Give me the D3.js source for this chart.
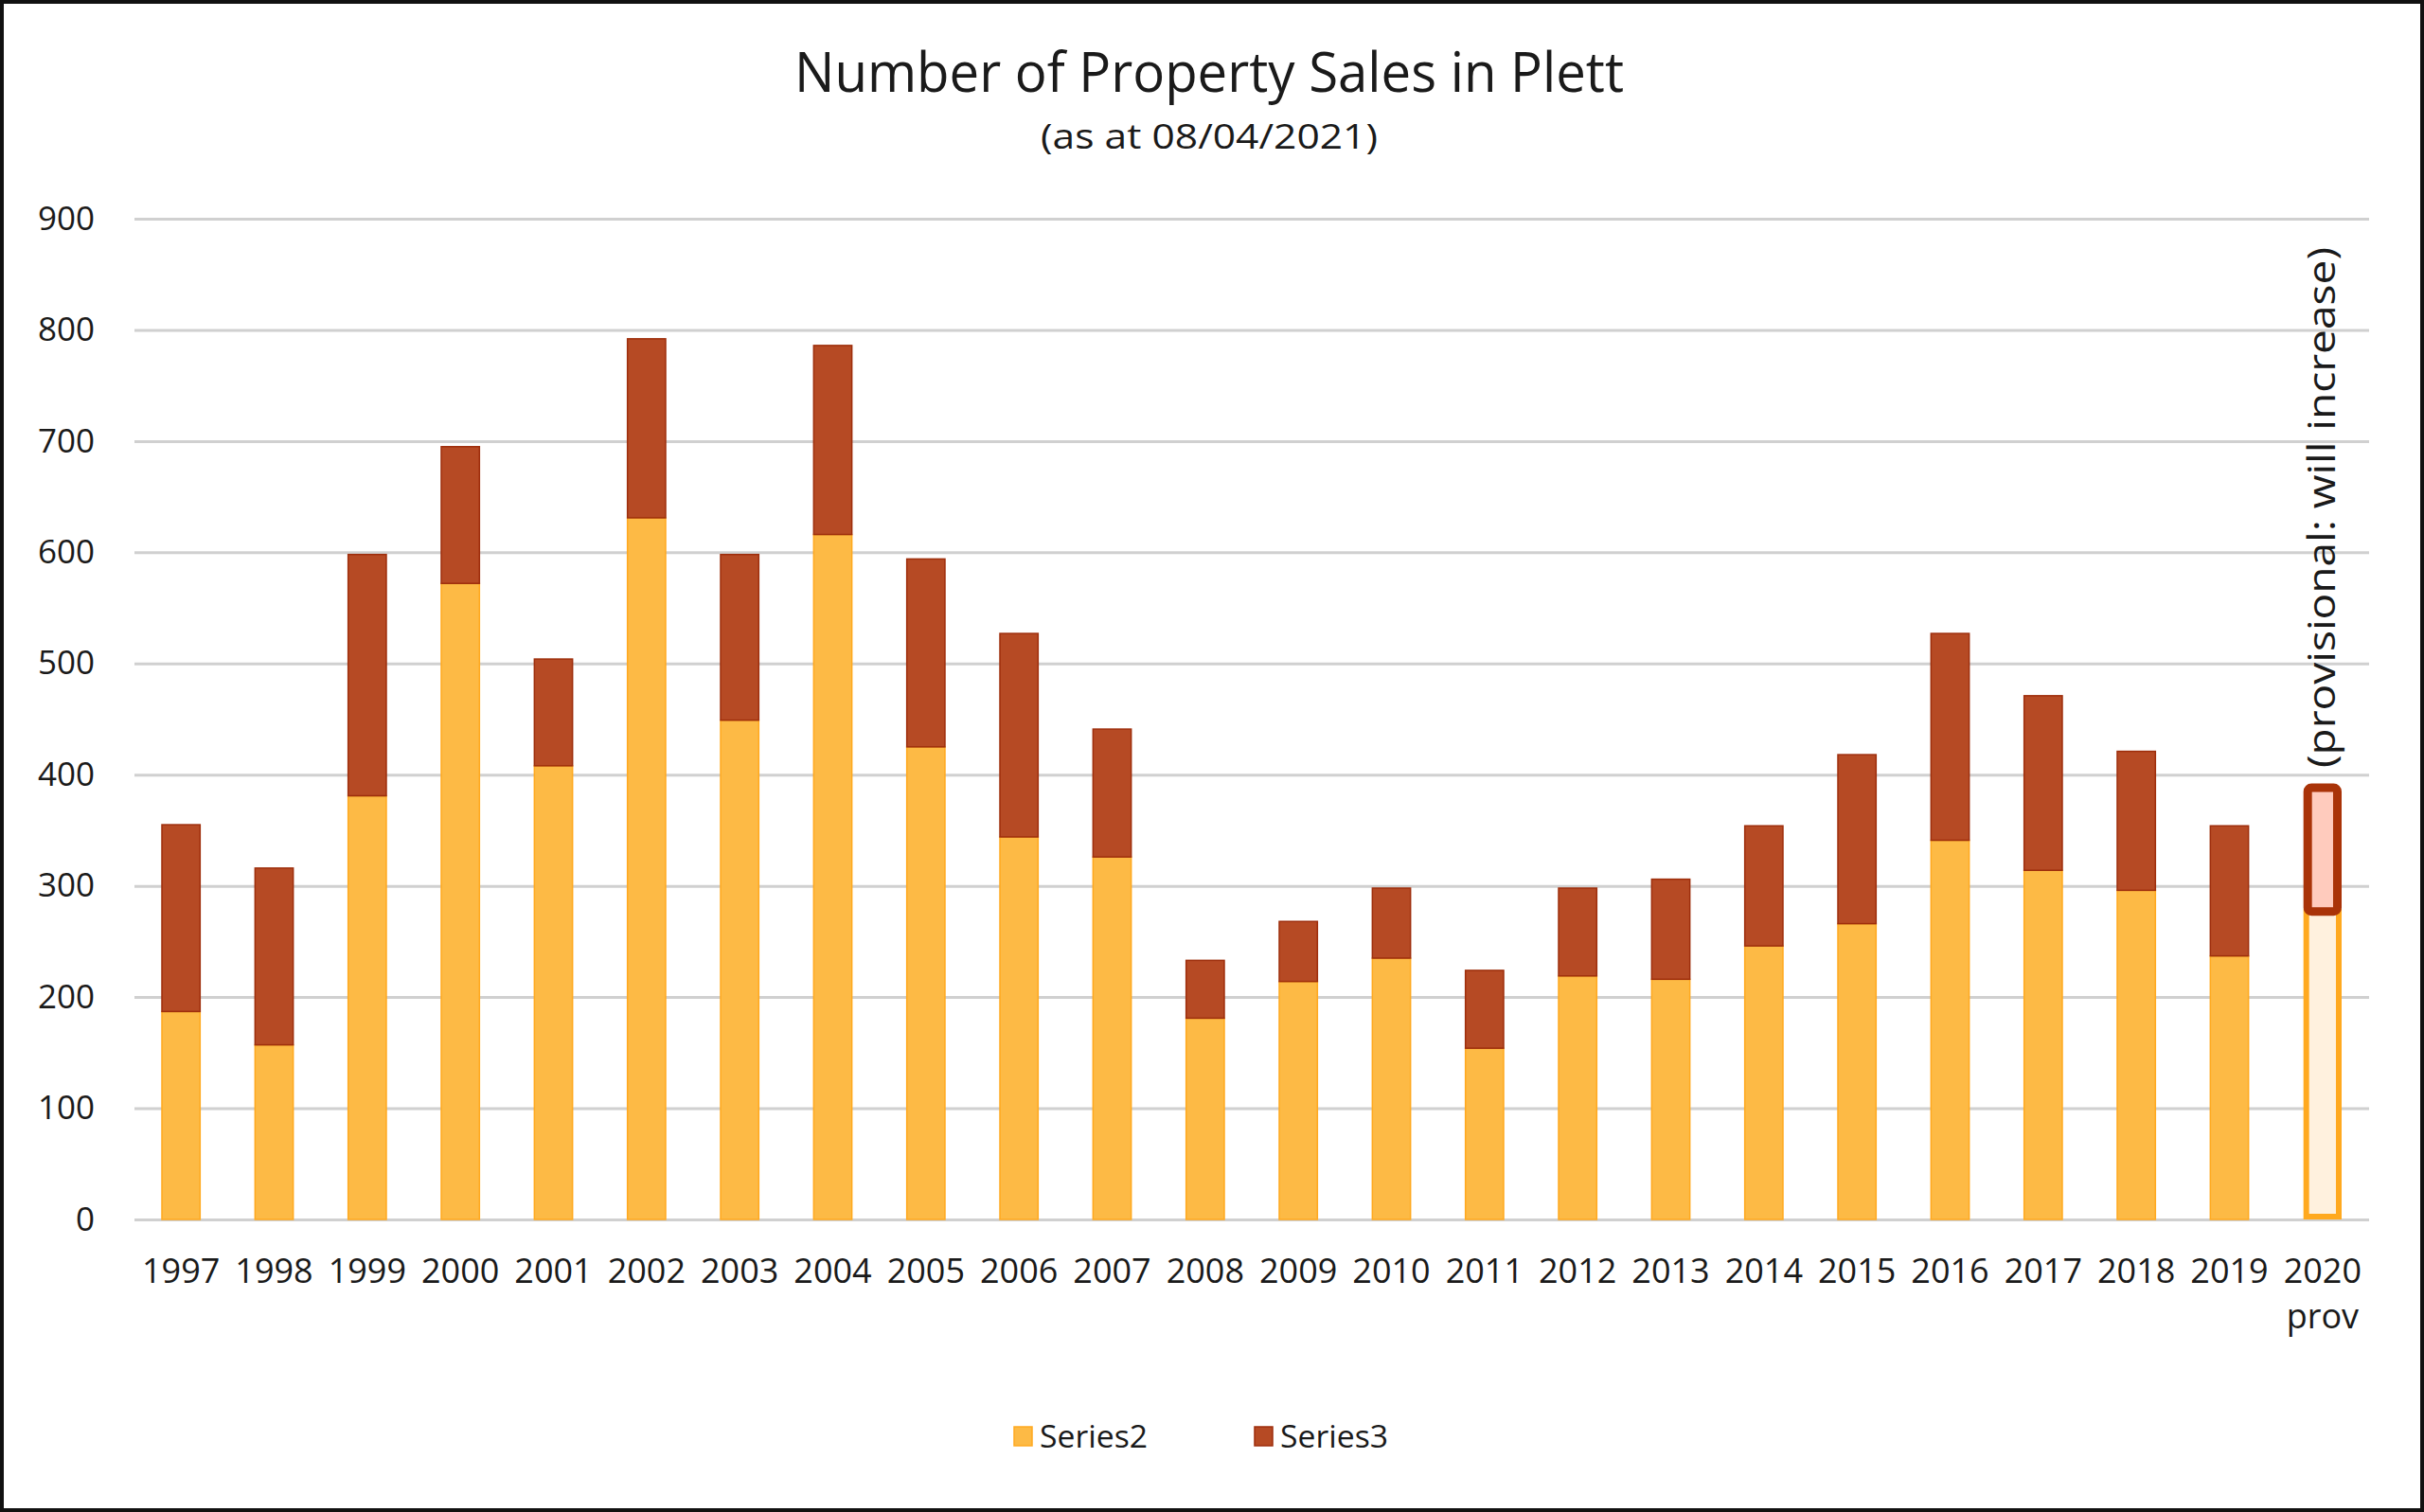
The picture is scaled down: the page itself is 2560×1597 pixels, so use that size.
<!DOCTYPE html>
<html>
<head>
<meta charset="utf-8">
<script src="https://cdn.jsdelivr.net/npm/d3@7"></script>
<style>
  html, body { margin: 0; padding: 0; background: #fff; }
  svg { display: block; }
</style>
</head>
<body>
<svg id="chart" width="2560" height="1597"></svg>
<script>
// ---- data ----
const years = ["1997","1998","1999","2000","2001","2002","2003","2004","2005","2006","2007","2008",
               "2009","2010","2011","2012","2013","2014","2015","2016","2017","2018","2019","2020"];
const subLabels = ["","","","","","","","","","","","","","","","","","","","","","","","prov"];
const series2 = [187,157,381,572,408,631,449,616,425,344,326,181,214,235,154,219,216,246,266,341,314,296,237,277];
const series3 = [168,159,217,123,96,161,149,170,169,183,115,52,54,63,70,79,90,108,152,186,157,125,117,115];
const yTicks = [0,100,200,300,400,500,600,700,800,900];
const seriesNames = ["Series2","Series3"];
const provisionalYear = "2020";
const titleText = "Number of Property Sales in Plett";
const subtitleText = "(as at 08/04/2021)";
const noteText = "(provisional: will increase)";

// ---- layout ----
const W = 2560, H = 1597;
const plotL = 142, plotR = 2502, plotT = 231, plotB = 1288;
const svg = d3.select("#chart");
const font = "'Open Sans', 'Noto Sans', sans-serif";

svg.append("rect").attr("x",0).attr("y",0).attr("width",W).attr("height",H).attr("fill","#fff");

const x = d3.scaleBand().domain(years).range([plotL, plotR]).paddingInner(0.59).paddingOuter(0.295);
const y = d3.scaleLinear().domain([0, 900]).range([plotB, plotT]);

// gridlines + y labels
const yAxis = svg.append("g").attr("transform", `translate(${plotL},0)`)
  .call(d3.axisLeft(y).tickValues(yTicks).tickSize(-(plotR - plotL)).tickPadding(42).tickFormat(d3.format("d")));
yAxis.select(".domain").remove();
yAxis.selectAll(".tick line").attr("stroke", "#d0d0d0").attr("stroke-width", 3);
yAxis.selectAll(".tick text").attr("font-family", font).attr("font-size", 35).attr("fill", "#1a1a1a");

// stacked data
const data = years.map((yr, i) => ({ year: yr, s2: series2[i], s3: series3[i] }));
const stack = d3.stack().keys(["s2","s3"])(data);
const fills = { s2: "#fdba45", s3: "#b64a24" };
const strokes = { s2: "#ffa91f", s3: "#9e2e0c" };
const provFills = { s2: "#fff1de", s3: "#ffcbbd" };
const provStrokes = { s2: "#ffa91f", s3: "#a93308" };
const provSW = { s2: 6, s3: 9 };

stack.forEach(layer => {
  const key = layer.key;
  svg.append("g").selectAll("rect").data(layer).join("rect")
    .each(function(d) {
      const prov = d.data.year === provisionalYear;
      const sel = d3.select(this);
      const x0 = x(d.data.year), bw = x.bandwidth();
      const yTop = y(d[1]), yBot = y(d[0]);
      if (!prov) {
        sel.attr("x", x0).attr("y", yTop).attr("width", bw).attr("height", yBot - yTop)
          .attr("fill", fills[key]).attr("stroke", strokes[key]).attr("stroke-width", 1.5);
      } else if (key === "s2") {
        const sw = provSW[key];
        sel.attr("x", x0 + sw/2).attr("y", yTop).attr("width", bw - sw).attr("height", yBot - yTop - sw/2)
          .attr("fill", provFills[key]).attr("stroke", provStrokes[key]).attr("stroke-width", sw);
      } else {
        const sw = provSW[key];
        sel.attr("x", x0 + sw/2).attr("y", yTop + sw/2).attr("width", bw - sw).attr("height", yBot - yTop - sw/2)
          .attr("rx", 4)
          .attr("fill", provFills[key]).attr("stroke", provStrokes[key]).attr("stroke-width", sw);
      }
    });
});

// x axis labels
const xAxis = svg.append("g").attr("transform", `translate(0,${plotB})`)
  .call(d3.axisBottom(x).tickSize(0).tickPadding(0));
xAxis.select(".domain").remove();
xAxis.selectAll(".tick text")
  .attr("font-family", font).attr("font-size", 36).attr("fill", "#1a1a1a")
  .attr("y", 67).attr("dy", 0)
  .each(function(d) {
    const sub = subLabels[years.indexOf(d)];
    if (sub) {
      d3.select(this).append("tspan").attr("x", 0).attr("dy", 48).text(sub);
    }
  });

// title & subtitle
svg.append("text").attr("x", 1277).attr("y", 97).attr("text-anchor", "middle")
  .attr("font-family", font).attr("font-size", 58).attr("fill", "#1a1a1a")
  .attr("textLength", 876).attr("lengthAdjust", "spacingAndGlyphs").text(titleText);
svg.append("text").attr("x", 1277).attr("y", 157).attr("text-anchor", "middle")
  .attr("font-family", font).attr("font-size", 36).attr("fill", "#1a1a1a")
  .attr("textLength", 356).attr("lengthAdjust", "spacingAndGlyphs").text(subtitleText);

// provisional note
const noteX = x(provisionalYear) + x.bandwidth()/2 + 13;
svg.append("text").attr("transform", `translate(${noteX},536) rotate(-90)`)
  .attr("text-anchor", "middle").attr("font-family", font).attr("font-size", 40).attr("fill", "#1a1a1a")
  .attr("textLength", 550).attr("lengthAdjust", "spacingAndGlyphs").text(noteText);

// legend
const legendX = [1071, 1325];
const lg = svg.append("g");
seriesNames.forEach((name, i) => {
  const key = i === 0 ? "s2" : "s3";
  lg.append("rect").attr("x", legendX[i]).attr("y", 1507).attr("width", 19).attr("height", 20)
    .attr("fill", fills[key]).attr("stroke", strokes[key]).attr("stroke-width", 1.5);
  lg.append("text").attr("x", legendX[i] + 27).attr("y", 1529)
    .attr("font-family", font).attr("font-size", 33).attr("fill", "#1a1a1a")
    .attr("textLength", 114).attr("lengthAdjust", "spacingAndGlyphs").text(name);
});

// outer border
svg.append("rect").attr("x", 2).attr("y", 2).attr("width", W - 4).attr("height", H - 4)
  .attr("fill", "none").attr("stroke", "#111").attr("stroke-width", 4);
</script>
</body>
</html>
